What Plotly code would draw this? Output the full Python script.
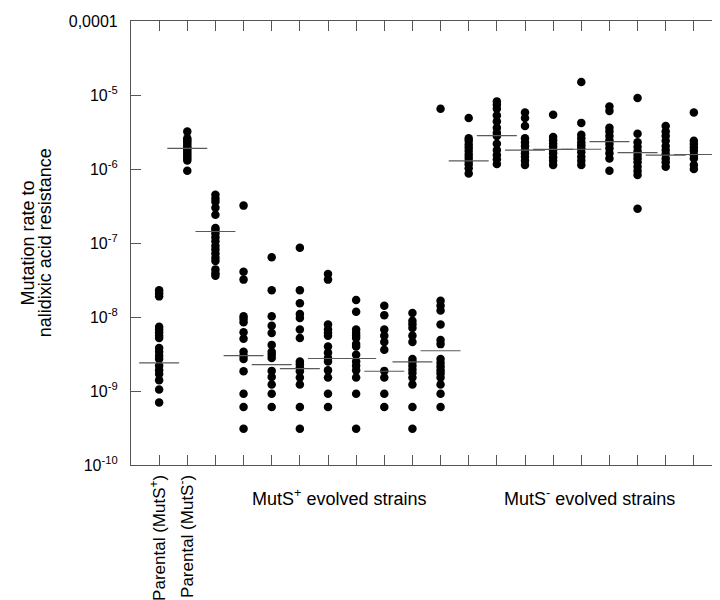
import plotly.graph_objects as go

# ---- data (mutation rates) ----
parental_plus = [2.3e-8, 2.1e-8, 1.9e-8, 7.4e-9, 6.8e-9, 6.2e-9, 5.6e-9, 5.2e-9, 3.8e-9, 3.4e-9,
                 3.0e-9, 2.7e-9, 2.2e-9, 1.9e-9, 1.7e-9, 1.4e-9, 1.05e-9, 7.0e-10]
parental_minus = [3.2e-6, 2.6e-6, 2.45e-6, 2.3e-6, 2.15e-6, 2.0e-6, 1.9e-6, 1.8e-6, 1.7e-6, 1.6e-6,
                  1.5e-6, 1.4e-6, 1.3e-6, 9.5e-7]
strain_03 = [4.5e-7, 4.0e-7, 3.6e-7, 3.0e-7, 2.4e-7, 1.6e-7, 1.5e-7, 1.35e-7, 1.2e-7, 1.06e-7,
             9.2e-8, 8.2e-8, 7.2e-8, 6.3e-8, 5.7e-8, 4.4e-8, 3.9e-8, 3.6e-8]
strain_04 = [3.2e-7, 4.1e-8, 3.2e-8, 1.02e-8, 9.4e-9, 8.5e-9, 6.2e-9, 5.1e-9, 3.4e-9, 3.0e-9,
             2.7e-9, 1.85e-9, 9.2e-10, 6.1e-10, 3.1e-10]
strain_05 = [6.4e-8, 2.3e-8, 1.02e-8, 7.6e-9, 6.1e-9, 4.2e-9, 3.4e-9, 3.1e-9, 2.8e-9, 1.87e-9,
             1.55e-9, 1.22e-9, 9.2e-10, 6.1e-10]
strain_06 = [8.6e-8, 2.3e-8, 1.53e-8, 1.1e-8, 9.7e-9, 6.8e-9, 5.2e-9, 2.5e-9, 2.3e-9, 2.07e-9,
             1.85e-9, 1.52e-9, 1.22e-9, 6.1e-10, 3.1e-10]
strain_07 = [3.8e-8, 3.2e-8, 7.9e-9, 6.8e-9, 6.1e-9, 5.6e-9, 4.0e-9, 3.3e-9, 2.8e-9, 2.5e-9,
             1.9e-9, 1.52e-9, 9.2e-10, 6.1e-10]
strain_08 = [1.7e-8, 1.18e-8, 6.8e-9, 6.1e-9, 5.6e-9, 5.2e-9, 4.3e-9, 4.0e-9, 3.1e-9, 2.5e-9,
             2.2e-9, 1.9e-9, 1.52e-9, 9.2e-10, 3.1e-10]
strain_09 = [1.42e-8, 1.06e-8, 6.8e-9, 5.6e-9, 4.6e-9, 3.6e-9, 1.87e-9, 1.52e-9, 9.2e-10, 6.1e-10]
strain_10 = [1.13e-8, 8.9e-9, 8.0e-9, 7.1e-9, 5.6e-9, 4.6e-9, 2.7e-9, 2.47e-9, 2.2e-9, 1.95e-9,
             1.75e-9, 1.52e-9, 1.22e-9, 6.1e-10, 3.1e-10]
strain_11 = [6.5e-6, 1.66e-8, 1.42e-8, 1.22e-8, 7.9e-9, 4.9e-9, 4.3e-9, 2.7e-9, 2.4e-9, 2.15e-9,
             1.9e-9, 1.72e-9, 1.52e-9, 1.22e-9, 9.2e-10, 6.1e-10]
strain_12 = [4.9e-6, 2.6e-6, 2.4e-6, 2.15e-6, 1.93e-6, 1.75e-6, 1.57e-6, 1.42e-6, 1.28e-6, 1.16e-6,
             1.02e-6, 8.7e-7]
strain_13 = [8.2e-6, 7.4e-6, 6.5e-6, 5.3e-6, 4.4e-6, 3.6e-6, 3.1e-6, 2.8e-6, 2.2e-6, 1.8e-6,
             1.54e-6, 1.35e-6, 1.17e-6]
strain_14 = [5.8e-6, 4.9e-6, 3.8e-6, 2.6e-6, 2.3e-6, 2.04e-6, 1.8e-6, 1.63e-6, 1.46e-6, 1.29e-6, 1.13e-6]
strain_15 = [5.4e-6, 2.7e-6, 2.45e-6, 2.2e-6, 2.0e-6, 1.8e-6, 1.63e-6, 1.44e-6, 1.29e-6, 1.13e-6]
strain_16 = [1.5e-5, 4.2e-6, 2.9e-6, 2.6e-6, 2.3e-6, 2.1e-6, 1.9e-6, 1.68e-6, 1.46e-6, 1.29e-6, 1.13e-6]
strain_17 = [7.0e-6, 6.1e-6, 3.6e-6, 3.2e-6, 2.8e-6, 2.45e-6, 2.17e-6, 1.9e-6, 1.63e-6, 1.39e-6, 9.5e-7]
strain_18 = [9.1e-6, 3.0e-6, 2.3e-6, 2.0e-6, 1.75e-6, 1.54e-6, 1.39e-6, 1.23e-6, 1.07e-6, 9.4e-7,
             8.3e-7, 2.9e-7]
strain_19 = [3.8e-6, 3.2e-6, 2.8e-6, 2.4e-6, 2.04e-6, 1.8e-6, 1.59e-6, 1.39e-6, 1.23e-6, 1.07e-6]
strain_20 = [5.8e-6, 2.4e-6, 2.17e-6, 1.95e-6, 1.76e-6, 1.54e-6, 1.39e-6, 1.13e-6, 1.0e-6]

medians = [2.4e-9, 1.9e-6, 1.43e-7, 3.0e-9, 2.27e-9, 2.0e-9, 2.75e-9, 2.75e-9, 1.85e-9, 2.47e-9,
           3.5e-9, 1.29e-6, 2.83e-6, 1.8e-6, 1.84e-6, 1.85e-6, 2.35e-6, 1.66e-6, 1.54e-6, 1.57e-6]

positions = list(range(1, 21))
labelled_positions = [1, 2]
tick_text = ["Parental (MutS<sup>+</sup>)", "Parental (MutS<sup>-</sup>)"]
y_tick_vals = [1e-4, 1e-5, 1e-6, 1e-7, 1e-8, 1e-9, 1e-10]
y_tick_text = ["0,0001", "10<sup>-5</sup>", "10<sup>-6</sup>", "10<sup>-7</sup>",
               "10<sup>-8</sup>", "10<sup>-9</sup>", "10<sup>-10</sup>"]
y_title_lines = ["Mutation rate to", "nalidixic acid resistance"]
group_labels = ["MutS<sup>+</sup> evolved strains", "MutS<sup>-</sup> evolved strains"]

columns = [parental_plus, parental_minus, strain_03, strain_04, strain_05, strain_06, strain_07,
           strain_08, strain_09, strain_10, strain_11, strain_12, strain_13, strain_14, strain_15,
           strain_16, strain_17, strain_18, strain_19, strain_20]

FONT = "Liberation Sans, Arial, sans-serif"
fig = go.Figure()

xs, ys = [], []
for pos, col in zip(positions, columns):
    xs += [pos] * len(col)
    ys += col
fig.add_trace(go.Scatter(x=xs, y=ys, mode="markers",
                         marker=dict(color="black", size=8.5, line=dict(width=0)),
                         hoverinfo="y", showlegend=False))

lx, ly = [], []
half = 0.71
for pos, m in zip(positions, medians):
    lx += [pos - half, pos + half, None]
    ly += [m, m, None]
fig.add_trace(go.Scatter(x=lx, y=ly, mode="lines", line=dict(color="#5a5a5a", width=1.2),
                         hoverinfo="skip", showlegend=False))

axis_col = "#555555"
fig.update_layout(
    width=720, height=600,
    margin=dict(l=123, r=5, t=10, b=143),
    paper_bgcolor="white", plot_bgcolor="white",
    font=dict(family=FONT, color="black"),
    xaxis=dict(range=[0, 21], tickmode="array", tickvals=labelled_positions, ticktext=tick_text,
               tickangle=-90,
               ticks="inside", ticklen=10, tickwidth=1, tickcolor=axis_col,
               minor=dict(tickmode="array", tickvals=positions[2:], ticks="inside", ticklen=10,
                          tickwidth=1, tickcolor=axis_col, showgrid=False),
               showline=True, linecolor=axis_col, linewidth=1.2, mirror="ticks",
               showgrid=False, zeroline=False, tickfont=dict(size=17, family=FONT),
               ticklabelstandoff=2),
    yaxis=dict(type="log", range=[-10, -4], tickvals=y_tick_vals, ticktext=y_tick_text,
               ticks="inside", ticklen=10, tickwidth=1, tickcolor=axis_col,
               showline=True, linecolor=axis_col, linewidth=1.2, mirror="ticks",
               showgrid=False, zeroline=False, tickfont=dict(size=16, family=FONT),
               ticklabelstandoff=9),
)

for text, xpos in zip(y_title_lines, [-0.175, -0.145]):
    fig.add_annotation(text=text, textangle=-90, xref="paper", yref="paper", x=xpos, y=0.5,
                       showarrow=False, font=dict(size=18, family=FONT),
                       xanchor="center", yanchor="middle")
for text, xpos in zip(group_labels, [7.4, 16.28]):
    fig.add_annotation(text=text, xref="x", yref="paper", x=xpos, y=-0.074, showarrow=False,
                       font=dict(size=18, family=FONT), xanchor="center", yanchor="middle")

fig.write_html("out.html")
